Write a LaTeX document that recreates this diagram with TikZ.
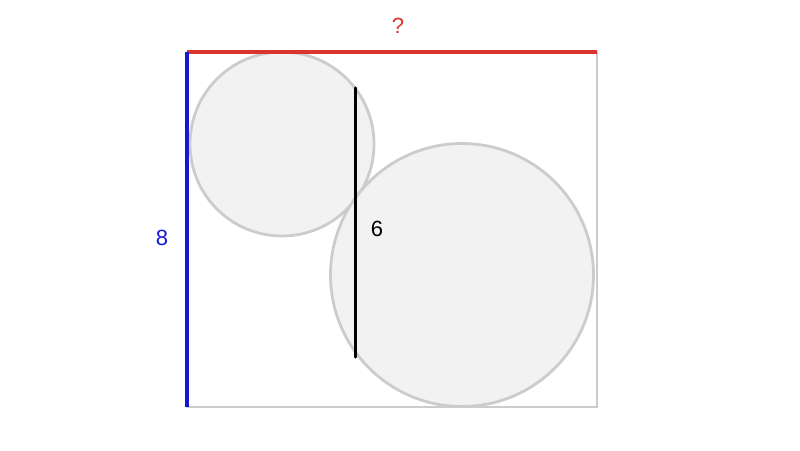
\documentclass[tikz,border=0pt]{standalone}
\usepackage{fontspec}
\setmainfont{Liberation Sans}
\definecolor{edgegray}{RGB}{204,204,204}
\definecolor{fillgray}{RGB}{242,242,242}
\definecolor{qred}{RGB}{218,52,44}
\definecolor{qblue}{RGB}{20,24,214}
\begin{document}
\begin{tikzpicture}[x=1pt,y=-1pt,
  frame/.style={draw=edgegray,line width=2.8pt},
  disc/.style={draw=edgegray,fill=fillgray,line width=2.8pt},
  lab/.style={font=\fontsize{22}{26}\selectfont,inner sep=0pt}]
\useasboundingbox (0,0) rectangle (800,450);
% frame
\draw[frame] (187,52) -- (597,52) -- (597,407) -- (187,407) -- cycle;
% circles
\draw[disc] (282,144) circle[radius=92];
\draw[disc] (462,275) circle[radius=131.5];
% chord
\coordinate (c1) at (355.5,88);
\coordinate (c2) at (355.5,357);
\draw[line width=3.2pt,black,line cap=round] (c1) -- (c2);
% sides
\coordinate (tl) at (187,52);
\coordinate (tr) at (597,52);
\coordinate (bl) at (187,407);
\draw[qred,line width=3.2pt] (tl) -- (tr);
\draw[qblue,line width=3.2pt] (bl) -- (tl);
% labels
\node[lab,qred] (q) at (398,26) {?};
\node[lab,qblue] (eight) at (162,238) {8};
\node[lab,black] (six) at (377,229) {6};
\end{tikzpicture}
\end{document}
